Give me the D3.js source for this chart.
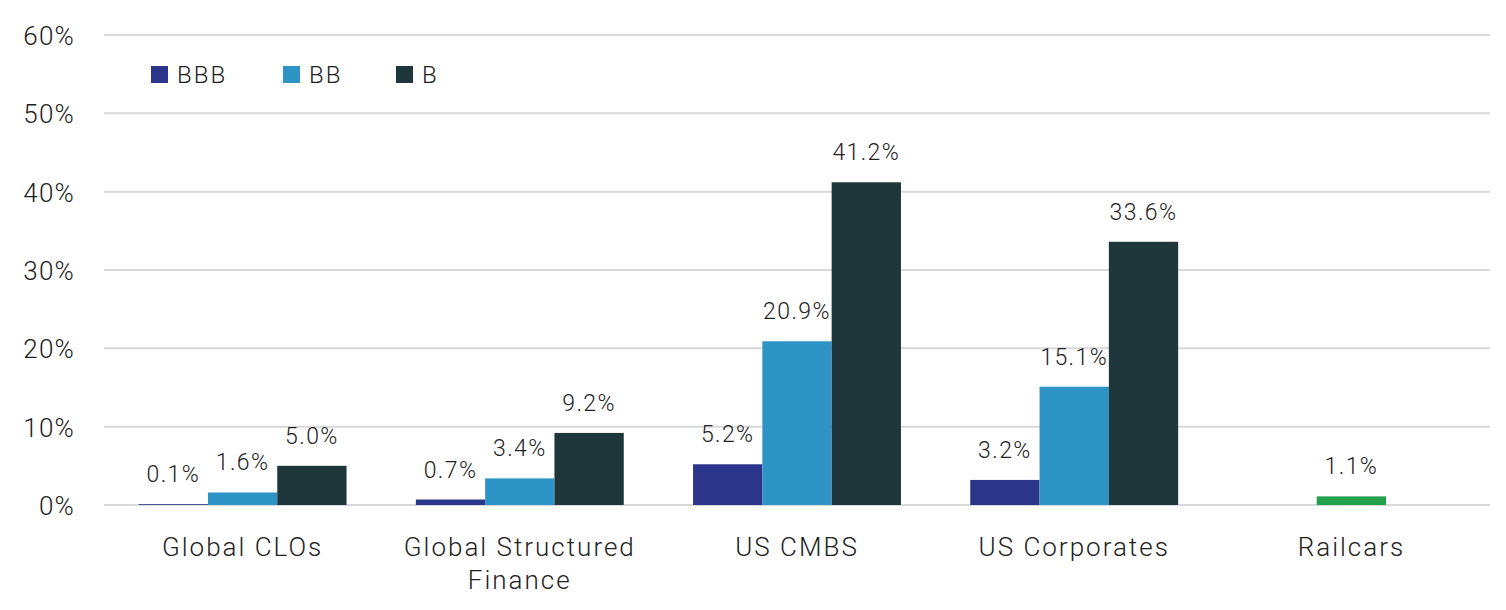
<!DOCTYPE html>
<html>
<head>
<meta charset="utf-8">
<script src="https://cdn.jsdelivr.net/npm/d3@7"></script>
<style>
  html, body { margin: 0; padding: 0; background: #fff; }
  svg text { font-family: Roboto, "Liberation Sans", sans-serif; font-weight: 300; fill: #222; }
</style>
</head>
<body>
<div id="chart"></div>
<script>
// categories and series (values in %)
const categories = ["Global CLOs", "Global Structured Finance", "US CMBS", "US Corporates", "Railcars"];
const seriesNames = ["BBB", "BB", "B"];
const bbb = [0.1, 0.7, 5.2, 3.2, null];
const bb = [1.6, 3.4, 20.9, 15.1, null];
const b = [5.0, 9.2, 41.2, 33.6, null];
// Railcars has a single value, drawn in the middle slot
const railcars = [null, null, null, null, 1.1];
const yTicks = [0, 10, 20, 30, 40, 50, 60];

const colors = { BBB: "#2b3589", BB: "#2e94c6", B: "#1f363a", Railcars: "#22a04b" };

const width = 1506, height = 610;
const margin = { top: 35, right: 16, bottom: 105, left: 104 };

const svg = d3.select("#chart").append("svg")
  .attr("width", width)
  .attr("height", height);

const x0 = d3.scaleBand()
  .domain(categories)
  .range([margin.left, width - margin.right])
  .padding(0);

const x1 = d3.scaleBand()
  .domain(seriesNames)
  .range([0, x0.bandwidth()])
  .paddingInner(0)
  .paddingOuter(0.5);

const y = d3.scaleLinear()
  .domain([0, 60])
  .range([height - margin.bottom, margin.top]);

// gridlines
svg.append("g")
  .selectAll("line")
  .data(yTicks)
  .join("line")
  .attr("x1", margin.left)
  .attr("x2", width - margin.right)
  .attr("y1", d => y(d))
  .attr("y2", d => y(d))
  .attr("stroke", "#d9d9d9")
  .attr("stroke-width", 2);

// y axis labels
const yAxis = svg.append("g")
  .attr("transform", `translate(${margin.left - 29},0)`)
  .call(d3.axisLeft(y).tickValues(yTicks).tickFormat(d => d + "%").tickSize(0).tickPadding(0));
yAxis.select(".domain").remove();
yAxis.selectAll("text")
  .attr("font-size", 26)
  .attr("font-family", null)
  .attr("letter-spacing", 1.2)
  .attr("dy", "0.36em");

// build flat bar list
const bars = [];
categories.forEach((c, i) => {
  [bbb, bb, b].forEach((arr, k) => {
    if (arr[i] != null) bars.push({ cat: c, series: seriesNames[k], value: arr[i], color: colors[seriesNames[k]] });
  });
  if (railcars[i] != null) bars.push({ cat: c, series: "BB", value: railcars[i], color: colors.Railcars });
});

svg.append("g")
  .selectAll("rect")
  .data(bars)
  .join("rect")
  .attr("x", d => x0(d.cat) + x1(d.series))
  .attr("y", d => y(d.value))
  .attr("width", x1.bandwidth())
  .attr("height", d => y(0) - y(d.value))
  .attr("fill", d => d.color);

// value labels
svg.append("g")
  .selectAll("text")
  .data(bars)
  .join("text")
  .attr("x", d => x0(d.cat) + x1(d.series) + x1.bandwidth() / 2)
  .attr("y", d => y(d.value) - 22)
  .attr("text-anchor", "middle")
  .attr("font-size", 23)
  .attr("letter-spacing", 1.4)
  .text(d => d.value.toFixed(1) + "%");

// category labels, wrapped
const catLabels = {
  "Global CLOs": ["Global CLOs"],
  "Global Structured Finance": ["Global Structured", "Finance"],
  "US CMBS": ["US CMBS"],
  "US Corporates": ["US Corporates"],
  "Railcars": ["Railcars"]
};
const xAxis = svg.append("g");
categories.forEach(c => {
  const t = xAxis.append("text")
    .attr("x", x0(c) + x0.bandwidth() / 2)
    .attr("y", 556)
    .attr("text-anchor", "middle")
    .attr("font-size", 26)
    .attr("letter-spacing", 2);
  catLabels[c].forEach((line, i) => {
    t.append("tspan")
      .attr("x", x0(c) + x0.bandwidth() / 2)
      .attr("dy", i === 0 ? 0 : 32.5)
      .text(line);
  });
});

// legend
const legend = svg.append("g").attr("transform", "translate(151,66)");
const legendX = [0, 132, 245];
seriesNames.forEach((s, i) => {
  const g = legend.append("g").attr("transform", `translate(${legendX[i]},0)`);
  g.append("rect").attr("width", 17).attr("height", 17).attr("fill", colors[s]);
  g.append("text").attr("x", 26).attr("y", 17).attr("font-size", 24).attr("letter-spacing", 2).text(s);
});
</script>
</body>
</html>
